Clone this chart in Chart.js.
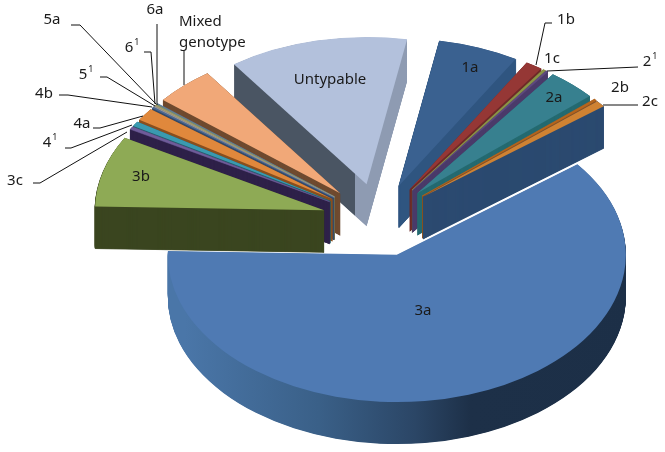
<!DOCTYPE html>
<html>
<head>
<meta charset="utf-8">
<style>
  html, body { margin: 0; padding: 0; background: #fff; }
  canvas { display: block; }
</style>
<script src="https://cdn.jsdelivr.net/npm/chart.js@4"></script>
</head>
<body>
<canvas id="chart-pie" width="665" height="452"></canvas>
<script>
// genotype share in percent
const categories = ['1a', '1b', '1c', '2^1', '2a', '2b', '2c', '3a', '3b', '3c', '4^1', '4a', '4b', '5^1', '5a', '6^1', '6a', 'Mixed genotype', 'Untypable'];
const shares = [5.7, 1.2, 0.2, 0.15, 3.5, 0.2, 0.7, 61.1, 7.8, 0.3, 0.55, 1.4, 0.1, 0.1, 0.1, 0.1, 0.1, 4.25, 12.7];
const topColors = ['#3a6190', '#953735', '#8a9447', '#5f4a80', '#37808f', '#b5651d', '#cf8232', '#4f7ab3', '#8eaa55', '#6f5c9a', '#3a9ab0', '#e0883c', '#4f6f9f', '#9a9a9a', '#b0a070', '#8a9a70', '#5f7f9f', '#f1a878', '#b3c1dc'];
const wallColors = ['#2f5580', '#6e2a28', '#6a7030', '#4a3a6a', '#246a70', '#8a4f1f', '#2c4a70', '#2c4a70', '#3b4620', '#2e2149', '#215a68', '#8a4f1f', '#334a6a', '#666666', '#7a6c48', '#5a6a48', '#3a5a7a', '#6f4a30', '#4a5563'];

// back to front
const paintOrder = [7, 18, 17, 16, 15, 14, 13, 12, 11, 10, 9, 8, 0, 1, 2, 3, 4, 5, 6];

const squash = 0.643;
const depth = 42;
const explode = 57;

// callouts: text anchor and leader line
const callouts = [
  { i: 14, x: 52, y: 20, line: [[71, 25], [80, 25], [156, 104]] },
  { i: 16, x: 155, y: 10, line: [[157, 24], [157, 105]] },
  { i: 15, x: 129, y: 48, line: [[144, 52], [151, 52], [155, 104]] },
  { i: 13, x: 83, y: 75, line: [[100, 77], [107, 77], [155, 106]] },
  { i: 12, x: 44, y: 94, line: [[59, 95], [68, 95], [152, 107]] },
  { i: 11, x: 82, y: 124, line: [[93, 128], [100, 128], [143, 116]] },
  { i: 10, x: 47, y: 143, line: [[65, 148], [71, 148], [132, 125]] },
  { i: 9, x: 15, y: 181, line: [[33, 183], [40, 183], [127, 132]] },
  { i: 8, x: 141, y: 177 },
  { i: 18, x: 330, y: 80 },
  { i: 0, x: 470, y: 68 },
  { i: 1, x: 566, y: 20, line: [[552, 23], [545, 23], [536, 65]] },
  { i: 2, x: 552, y: 59 },
  { i: 3, x: 647, y: 62, line: [[638, 67], [547, 71]] },
  { i: 4, x: 554, y: 98 },
  { i: 5, x: 620, y: 88 },
  { i: 6, x: 650, y: 102, line: [[638, 105], [603, 105]] },
  { i: 7, x: 423, y: 311 }
];

function wallFill(ctx, i) {
  if (i === 7) {
    const g = ctx.createLinearGradient(167, 0, 627, 0);
    g.addColorStop(0, '#4a76a8');
    g.addColorStop(0.29, '#3a6088');
    g.addColorStop(0.5, '#2b4666');
    g.addColorStop(0.62, '#1d3048');
    g.addColorStop(1, '#1c2f47');
    return g;
  }
  if (i === 18) {
    // untypable: dark cut face on the left, pale one on the right
    const g = ctx.createLinearGradient(200, 0, 420, 0);
    const stop = (367 - 200) / 220;
    g.addColorStop(0, wallColors[i]);
    g.addColorStop(stop, wallColors[i]);
    g.addColorStop(stop, '#8e9bb2');
    g.addColorStop(1, '#8e9bb2');
    return g;
  }
  return wallColors[i];
}

function drawSlice(ctx, arc, drop, fill, border) {
  const mid = (arc.startAngle + arc.endAngle) / 2;
  const saved = arc.options;
  arc.options = Object.assign({}, saved, { backgroundColor: fill, borderColor: fill, borderWidth: border });
  ctx.save();
  ctx.translate(0, arc.y + drop);
  ctx.scale(1, squash);
  ctx.translate(0, -arc.y);
  ctx.translate(Math.cos(mid) * explode, Math.sin(mid) * explode);
  arc.draw(ctx);
  ctx.restore();
  arc.options = saved;
}

const pie3d = {
  id: 'pie3d',
  beforeDatasetsDraw(chart) {
    const ctx = chart.ctx;
    const arcs = chart.getDatasetMeta(0).data;
    paintOrder.forEach(i => {
      const wall = wallFill(ctx, i);
      for (let d = depth; d > 0; d -= 0.5) {
        // the border keeps very thin wedges solid near the apex
        drawSlice(ctx, arcs[i], d, wall, shares[i] < 8 ? 1 : 0);
      }
      drawSlice(ctx, arcs[i], 0, topColors[i], shares[i] < 0.5 ? 0.6 : 0);
    });
    return false;
  }
};

const labelFont = '15px "Noto Sans"';

const calloutText = {
  id: 'calloutText',
  afterDraw(chart) {
    const ctx = chart.ctx;
    ctx.save();
    ctx.strokeStyle = '#111';
    ctx.lineWidth = 1;
    ctx.fillStyle = '#1a1a1a';
    ctx.font = labelFont;
    ctx.textBaseline = 'middle';

    callouts.forEach(c => {
      if (c.line) {
        ctx.beginPath();
        c.line.forEach((p, n) => n ? ctx.lineTo(p[0], p[1]) : ctx.moveTo(p[0], p[1]));
        ctx.stroke();
      }
      const parts = categories[c.i].split('^');
      ctx.textAlign = 'center';
      if (parts.length === 2) {
        ctx.fillText(parts[0], c.x, c.y);
        const w = ctx.measureText(parts[0]).width;
        ctx.font = '9px "Noto Sans"';
        ctx.textAlign = 'left';
        ctx.fillText(parts[1], c.x + w / 2 + 1, c.y - 6);
        ctx.font = labelFont;
      } else {
        ctx.fillText(categories[c.i], c.x, c.y);
      }
    });

    // two line label with its own leader
    const words = categories[17].split(' ');
    ctx.textAlign = 'left';
    ctx.fillText(words[0], 179, 22);
    ctx.fillText(words[1], 179, 43);
    ctx.beginPath();
    ctx.moveTo(184, 50);
    ctx.lineTo(184, 85);
    ctx.stroke();
    ctx.restore();
  }
};

new Chart(document.getElementById('chart-pie').getContext('2d'), {
  type: 'pie',
  plugins: [pie3d, calloutText],
  data: {
    labels: categories,
    datasets: [{
      data: shares,
      backgroundColor: topColors,
      borderWidth: 0
    }]
  },
  options: {
    responsive: false,
    animation: false,
    rotation: 10.2,
    radius: 229,
    layout: { padding: { left: 93, bottom: 12 } },
    plugins: { legend: { display: false }, tooltip: { enabled: false } }
  }
});
</script>
</body>
</html>
